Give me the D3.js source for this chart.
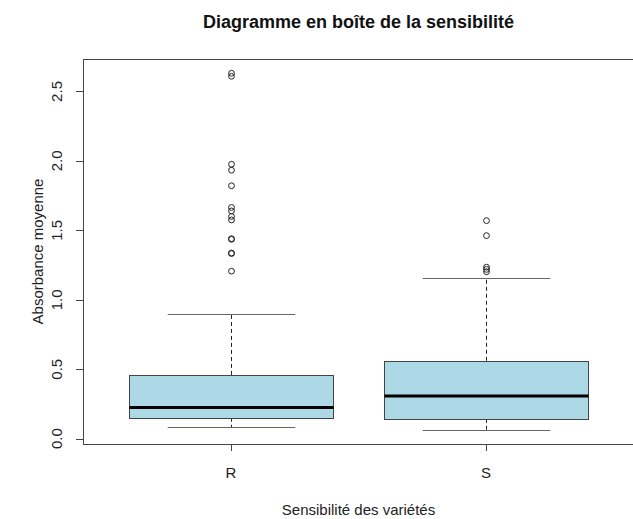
<!DOCTYPE html>
<html>
<head>
<meta charset="utf-8">
<script src="https://cdn.jsdelivr.net/npm/d3@7"></script>
<style>
    body { margin: 0; background: #fff; }
    svg { display: block; font-family: "Liberation Sans", Arial, sans-serif; }
</style>
</head>
<body>
<svg id="chart" width="633" height="519"></svg>
<script>
// boxplot summaries
const groups = ["R", "S"];
const whiskerLow = [0.081, 0.0645];
const q1 = [0.1505, 0.143];
const median = [0.224, 0.308];
const q3 = [0.459, 0.561];
const whiskerHigh = [0.898, 1.156];
const outliersR = [2.631, 2.609, 1.976, 1.933, 1.821, 1.665, 1.64, 1.60, 1.575, 1.44, 1.435, 1.337, 1.333, 1.206];
const outliersS = [1.570, 1.462, 1.235, 1.219, 1.202];
const outliers = [outliersR, outliersS];
const yTicks = [0.0, 0.5, 1.0, 1.5, 2.0, 2.5];

const svg = d3.select("#chart");
const plotLeft = 83, plotRight = 634, plotTop = 59, plotBottom = 444;

// R style: 4% extension of the data range
const allVals = whiskerLow.concat(whiskerHigh, outliersR, outliersS);
const yMin = d3.min(allVals), yMax = d3.max(allVals);
const ext = (yMax - yMin) * 0.04;
const y = d3.scaleLinear().domain([yMin - ext, yMax + ext]).range([plotBottom, plotTop]);
const x = d3.scaleLinear().domain([0.42, 2.58]).range([plotLeft, plotRight]);

const boxHalf = x(1.4) - x(1);
const capHalf = x(1.25) - x(1);

const g = svg.append("g");

groups.forEach(function (name, i) {
    const cx = Math.round(x(i + 1)) + 0.5;
    // dashed whiskers
    g.append("line")
        .attr("x1", cx).attr("x2", cx)
        .attr("y1", y(q3[i])).attr("y2", y(whiskerHigh[i]))
        .attr("stroke", "#222").attr("stroke-dasharray", "4,3");
    g.append("line")
        .attr("x1", cx).attr("x2", cx)
        .attr("y1", y(q1[i])).attr("y2", y(whiskerLow[i]))
        .attr("stroke", "#222").attr("stroke-dasharray", "4,3");
    // staples
    [whiskerLow[i], whiskerHigh[i]].forEach(function (v) {
        g.append("line")
            .attr("x1", cx - capHalf).attr("x2", cx + capHalf)
            .attr("y1", Math.round(y(v)) + 0.5).attr("y2", Math.round(y(v)) + 0.5)
            .attr("stroke", "#666");
    });
    // box
    g.append("rect")
        .attr("x", Math.round(cx - boxHalf) + 0.5)
        .attr("y", Math.round(y(q3[i])) + 0.5)
        .attr("width", Math.round(2 * boxHalf))
        .attr("height", Math.round(y(q1[i]) - y(q3[i])))
        .attr("fill", "#ADD8E6")
        .attr("stroke", "#444");
    // median
    g.append("line")
        .attr("x1", cx - boxHalf).attr("x2", cx + boxHalf)
        .attr("y1", y(median[i])).attr("y2", y(median[i]))
        .attr("stroke", "#000").attr("stroke-width", 3);
    // outliers
    g.selectAll("circle.out" + i)
        .data(outliers[i])
        .enter()
        .append("circle")
        .attr("class", "out" + i)
        .attr("cx", cx)
        .attr("cy", d => y(d))
        .attr("r", 2.9)
        .attr("fill", "none")
        .attr("stroke", "#222")
        .attr("stroke-width", 1);
});

// frame
svg.append("rect")
    .attr("x", plotLeft + 0.5).attr("y", plotTop + 0.5)
    .attr("width", plotRight - plotLeft).attr("height", plotBottom - plotTop)
    .attr("fill", "none").attr("stroke", "#444");

// y axis
const yAxis = svg.append("g");
yAxis.append("line")
    .attr("x1", plotLeft + 0.5).attr("x2", plotLeft + 0.5)
    .attr("y1", y(0)).attr("y2", y(2.5))
    .attr("stroke", "#444");
yTicks.forEach(function (t) {
    const py = Math.round(y(t)) + 0.5;
    yAxis.append("line")
        .attr("x1", plotLeft - 7).attr("x2", plotLeft)
        .attr("y1", py).attr("y2", py)
        .attr("stroke", "#444");
    yAxis.append("text")
        .attr("transform", `translate(62,${y(t)}) rotate(-90)`)
        .attr("text-anchor", "middle")
        .attr("font-size", 15)
        .attr("fill", "#222")
        .text(t.toFixed(1));
});

// x axis
groups.forEach(function (name, i) {
    const px = Math.round(x(i + 1)) + 0.5;
    svg.append("line")
        .attr("x1", px).attr("x2", px)
        .attr("y1", plotBottom).attr("y2", plotBottom + 7)
        .attr("stroke", "#444");
    svg.append("text")
        .attr("x", x(i + 1)).attr("y", 478)
        .attr("text-anchor", "middle")
        .attr("font-size", 15)
        .attr("fill", "#222")
        .text(name);
});

// labels
const midX = (plotLeft + plotRight) / 2;
svg.append("text")
    .attr("x", midX).attr("y", 28)
    .attr("text-anchor", "middle")
    .attr("font-size", 18)
    .attr("font-weight", "bold")
    .attr("fill", "#111")
    .text("Diagramme en boîte de la sensibilité");
svg.append("text")
    .attr("x", midX).attr("y", 515)
    .attr("text-anchor", "middle")
    .attr("font-size", 15)
    .attr("fill", "#222")
    .text("Sensibilité des variétés");
svg.append("text")
    .attr("transform", `translate(43,${(plotTop + plotBottom) / 2}) rotate(-90)`)
    .attr("text-anchor", "middle")
    .attr("font-size", 15)
    .attr("fill", "#222")
    .text("Absorbance moyenne");
</script>
</body>
</html>
